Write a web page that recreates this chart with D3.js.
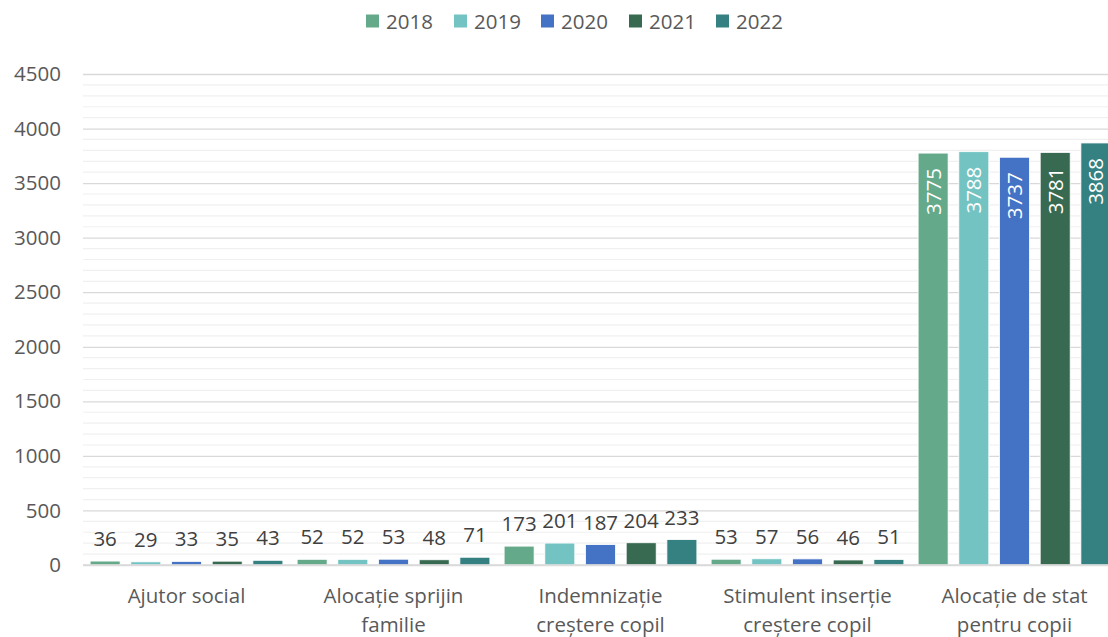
<!DOCTYPE html>
<html>
<head>
<meta charset="utf-8">
<script src="https://cdn.jsdelivr.net/npm/d3@7"></script>
<style>
  body { margin: 0; background: #fff; }
  svg { font-family: "Open Sans", sans-serif; }
</style>
</head>
<body>
<div id="chart"></div>
<script>
const width = 1108;
const height = 637;
const margin = {"top": 74, "bottom": 72, "left": 83, "right": -10};
const fontSize = "20.5px";

const categories = [
	["Ajutor social"],
	["Alocație sprijin", "familie"],
	["Indemnizație", "creștere copil"],
	["Stimulent inserție", "creștere copil"],
	["Alocație de stat", "pentru copii"]
];
const years = ["2018", "2019", "2020", "2021", "2022"];
const colors = ["#64a98a", "#73c3c3", "#4472c4", "#386a52", "#358081"];
const values2018 = [36, 52, 173, 53, 3775];
const values2019 = [29, 52, 201, 57, 3788];
const values2020 = [33, 53, 187, 56, 3737];
const values2021 = [35, 48, 204, 46, 3781];
const values2022 = [43, 71, 233, 51, 3868];
const series = [values2018, values2019, values2020, values2021, values2022];
const yTicks = [0, 500, 1000, 1500, 2000, 2500, 3000, 3500, 4000, 4500];

const innerW = width - margin.left - margin.right;
const innerH = height - margin.top - margin.bottom;

let svg = d3.select("#chart").append("svg")
	.attr("width", width)
	.attr("height", height);
let canvas = svg.append("g")
	.attr("transform", "translate(" + margin.left + "," + margin.top + ")");

let x0 = d3.scaleBand()
	.domain(d3.range(categories.length))
	.range([0, innerW]);
let x1 = d3.scaleBand()
	.domain(years)
	.range([0, x0.bandwidth()])
	.paddingInner(0.263)
	.paddingOuter(0.175);
let y = d3.scaleLinear()
	.domain([0, 4500])
	.range([innerH, 0]);

// minor gridlines every 100
canvas.append("g")
	.selectAll("line")
	.data(d3.range(100, 4600, 100).filter(v => v % 500 != 0))
	.enter().append("line")
	.attr("x1", 0).attr("x2", innerW)
	.attr("y1", d => y(d)).attr("y2", d => y(d))
	.attr("stroke", "#f0f0f0")
	.attr("stroke-width", 1.2);

// major gridlines
let yAxis = d3.axisLeft(y).tickValues(yTicks).tickFormat(d3.format("d")).tickSize(-innerW).tickPadding(22);
let gY = canvas.append("g").call(yAxis);
gY.select(".domain").remove();
gY.selectAll(".tick line").attr("stroke", "#d9d9d9").attr("stroke-width", 1.3);
gY.selectAll(".tick text")
	.attr("fill", "#595959")
	.style("font-size", fontSize)
	.style("font-family", "Open Sans");

// bars
let groups = canvas.selectAll(".grp")
	.data(categories)
	.enter().append("g")
	.attr("class", "grp")
	.attr("transform", (d, i) => "translate(" + x0(i) + ",0)");

groups.each(function(cat, ci) {
	let g = d3.select(this);
	years.forEach((yr, si) => {
		let v = series[si][ci];
		g.append("rect")
			.attr("x", x1(yr))
			.attr("width", x1.bandwidth())
			.attr("y", y(v))
			.attr("height", innerH - y(v))
			.attr("fill", colors[si])
			.attr("stroke", "#fff")
			.attr("stroke-width", 0.8);
		if (v > 1000) {
			let cx = x1(yr) + x1.bandwidth() / 2;
			g.append("text")
				.attr("transform", "translate(" + (cx + 7.5) + "," + (y(v) + 15) + ") rotate(-90)")
				.attr("text-anchor", "end")
				.attr("fill", "#fff")
				.style("font-size", fontSize)
				.text(v);
		} else {
			g.append("text")
				.attr("x", x1(yr) + x1.bandwidth() / 2)
				.attr("y", y(v) - 15)
				.attr("text-anchor", "middle")
				.attr("fill", "#404040")
				.style("font-size", fontSize)
				.text(v);
		}
	});
});

// x axis line
canvas.append("line")
	.attr("x1", 0).attr("x2", innerW)
	.attr("y1", innerH).attr("y2", innerH)
	.attr("stroke", "#d9d9d9")
	.attr("stroke-width", 1.3);

// category labels
categories.forEach((lines, i) => {
	let t = canvas.append("text")
		.attr("x", x0(i) + x0.bandwidth() / 2)
		.attr("y", innerH + 38)
		.attr("text-anchor", "middle")
		.attr("fill", "#595959")
		.style("font-size", fontSize);
	lines.forEach((ln, li) => {
		t.append("tspan")
			.attr("x", x0(i) + x0.bandwidth() / 2)
			.attr("dy", li == 0 ? 0 : 29)
			.text(ln);
	});
});

// legend
let legendX = [366, 454, 541, 629, 716];
let legend = svg.append("g").attr("transform", "translate(0,21)");
years.forEach((yr, i) => {
	legend.append("rect")
		.attr("x", legendX[i])
		.attr("y", -6.5)
		.attr("width", 13)
		.attr("height", 13)
		.attr("fill", colors[i]);
	legend.append("text")
		.attr("x", legendX[i] + 20)
		.attr("y", 7.5)
		.attr("fill", "#595959")
		.style("font-size", fontSize)
		.text(yr);
});
</script>
</body>
</html>
